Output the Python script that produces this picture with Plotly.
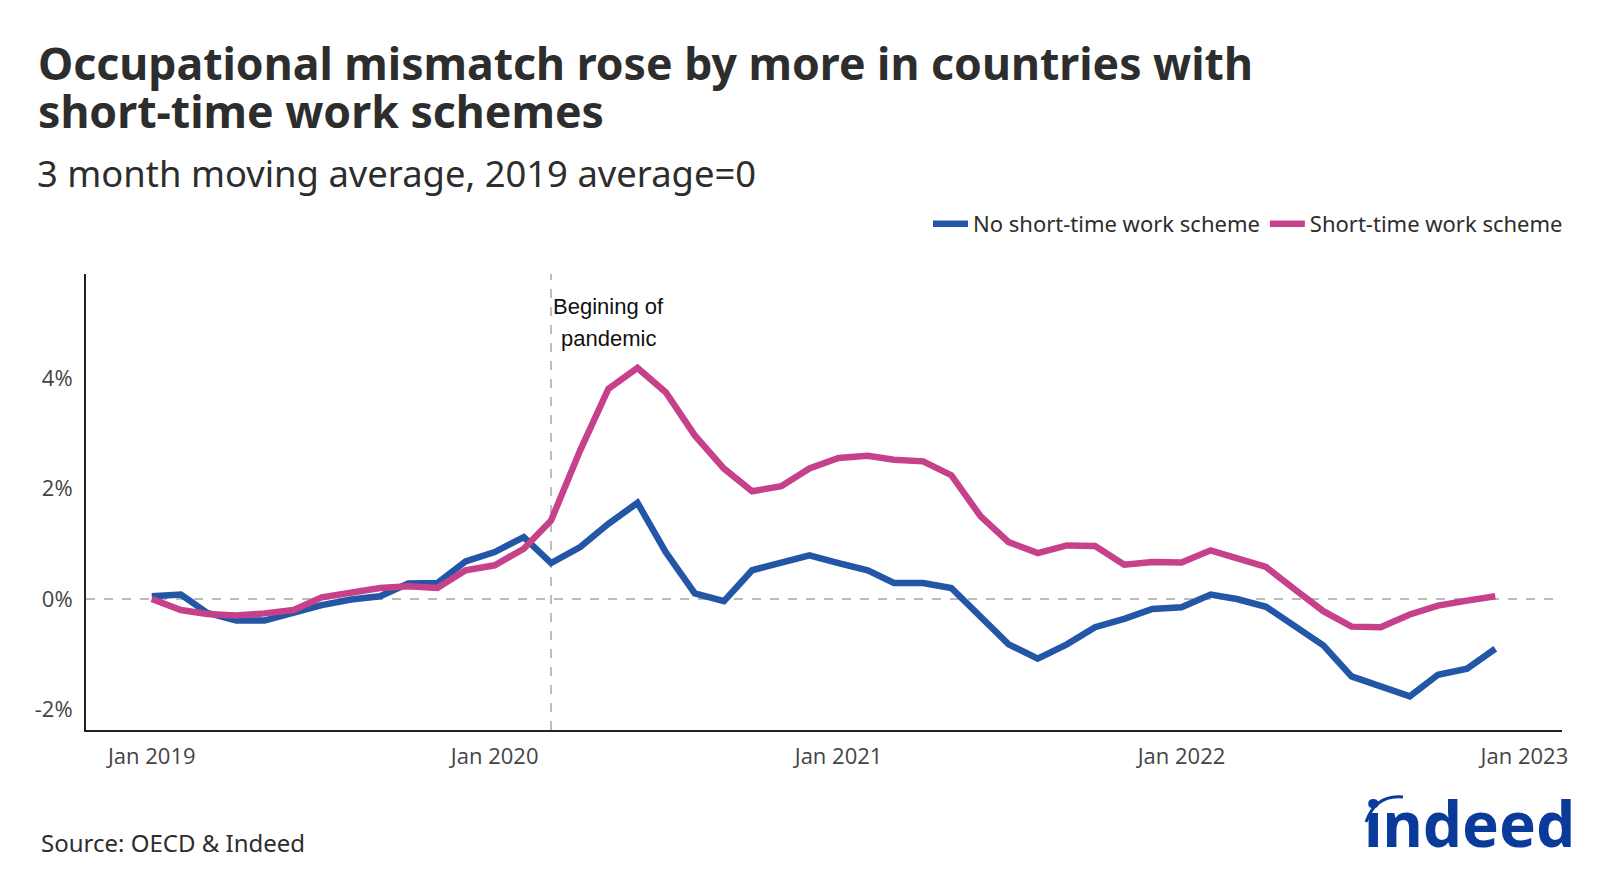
import pandas as pd
import plotly.graph_objects as go

months = pd.date_range("2019-01-01", periods=48, freq="MS")

no_scheme = [0.05, 0.08, -0.25, -0.39, -0.39, -0.24, -0.11, -0.01, 0.05, 0.28, 0.29, 0.68,
             0.85, 1.12, 0.65, 0.94, 1.36, 1.74, 0.85, 0.10, -0.04, 0.52, 0.65, 0.79,
             0.65, 0.52, 0.29, 0.29, 0.20, -0.33, -0.82, -1.08, -0.82, -0.51, -0.36, -0.18,
             -0.15, 0.08, 0.00, -0.14, -0.48, -0.84, -1.40, -1.57, -1.76, -1.37, -1.26, -0.90]

scheme = [0.00, -0.20, -0.27, -0.30, -0.26, -0.20, 0.03, 0.12, 0.20, 0.23, 0.20, 0.52,
          0.61, 0.91, 1.42, 2.69, 3.80, 4.18, 3.74, 2.96, 2.36, 1.95, 2.04, 2.36,
          2.55, 2.59, 2.52, 2.49, 2.24, 1.50, 1.03, 0.83, 0.97, 0.96, 0.62, 0.67,
          0.66, 0.88, 0.75, 0.58, 0.18, -0.22, -0.50, -0.51, -0.28, -0.12, -0.03, 0.05]

y_ticks = [-2, 0, 2, 4]
y_tick_labels = ["-2%", "0%", "2%", "4%"]
pandemic_start = "2020-03-01"

BLUE = "#2356a6"
PINK = "#c7408a"
DARK = "#2d2d2d"
FONT = "Noto Sans"

fig = go.Figure()
fig.add_trace(go.Scatter(x=months, y=no_scheme, mode="lines", name="No short-time work scheme",
                         line=dict(color=BLUE, width=6.5)))
fig.add_trace(go.Scatter(x=months, y=scheme, mode="lines", name="Short-time work scheme",
                         line=dict(color=PINK, width=6.5)))

# page offset of the plot div (browser body margin)
OFF = 8
W, H = 1600 - OFF, 873 - OFF
# plot area in page pixels: left 86, right 1562, top 274, bottom 730
L, T = 86 - OFF, 274 - OFF
R = W - (1562 - OFF)
B = H - (730 - OFF)
pw, ph = W - L - R, H - T - B


def px(xpage):
    return (xpage - OFF - L) / pw


def py(ypage):
    return (H - B - (ypage - OFF)) / ph


annotations = [
    dict(text="<b>Occupational mismatch rose by more in countries with</b>", x=px(36), y=py(63),
         xanchor="left", yanchor="middle", font=dict(size=44.6, color=DARK, family=FONT)),
    dict(text="<b>short-time work schemes</b>", x=px(36), y=py(110),
         xanchor="left", yanchor="middle", font=dict(size=44.6, color=DARK, family=FONT)),
    dict(text="3 month moving average, 2019 average=0", x=px(35), y=py(173),
         xanchor="left", yanchor="middle", font=dict(size=36.4, color=DARK, family=FONT)),
    dict(text="Source: OECD & Indeed", x=px(39), y=py(842),
         xanchor="left", yanchor="middle", font=dict(size=24, color=DARK, family=FONT)),
    dict(text="<b>indeed</b>", x=px(1469), y=py(823),
         xanchor="center", yanchor="middle", font=dict(size=62, color="#0a3a9a", family=FONT)),
]
for a in annotations:
    a.update(xref="paper", yref="paper", showarrow=False)

annotations += [
    dict(text="Begining of", xref="x", yref="paper", x=pandemic_start, y=py(306), xshift=57,
         xanchor="center", yanchor="middle", showarrow=False,
         font=dict(size=22, color="#111", family="Liberation Sans, Arial")),
    dict(text="pandemic", xref="x", yref="paper", x=pandemic_start, y=py(338), xshift=57,
         xanchor="center", yanchor="middle", showarrow=False,
         font=dict(size=22, color="#111", family="Liberation Sans, Arial")),
]

shapes = [
    dict(type="line", xref="paper", yref="y", x0=0, x1=1, y0=0, y1=0,
         line=dict(color="#bbbbbb", width=2, dash="dash"), layer="below"),
    dict(type="line", xref="x", yref="paper", x0=pandemic_start, x1=pandemic_start, y0=0, y1=1,
         line=dict(color="#bbbbbb", width=2, dash="dash"), layer="below"),
    # arc over the "i" of the logo
    dict(type="path", xref="paper", yref="paper",
         path=f"M {px(1366)},{py(822)} Q {px(1376)},{py(794)} {px(1403)},{py(797)}",
         line=dict(color="#0a3a9a", width=3)),
]

fig.update_layout(
    width=W, height=H,
    margin=dict(l=L, r=R, t=T, b=B),
    paper_bgcolor="white", plot_bgcolor="white",
    font=dict(family=FONT, color=DARK),
    showlegend=True,
    legend=dict(orientation="h", x=px(1568), xanchor="right", y=py(224), yanchor="middle",
                font=dict(size=22, color=DARK, family=FONT), itemwidth=35,
                bgcolor="rgba(0,0,0,0)", traceorder="normal"),
    annotations=annotations,
    shapes=shapes,
)

fig.update_xaxes(type="date", range=["2018-10-23", "2023-02-10"],
                 tick0="2019-01-01", dtick="M12", tickformat="%b %Y",
                 showgrid=False, zeroline=False, showline=True, linecolor="#222", linewidth=2,
                 ticks="", ticklabelstandoff=6,
                 tickfont=dict(size=22, color="#444", family="Open Sans"))
fig.update_yaxes(range=[-2.37, 5.88], tickvals=y_ticks, ticktext=y_tick_labels,
                 showgrid=False, zeroline=False, showline=True, linecolor="#222", linewidth=2,
                 ticks="", ticklabelstandoff=7,
                 tickfont=dict(size=22, color="#444", family="Open Sans"))

fig.write_html("out.html")
